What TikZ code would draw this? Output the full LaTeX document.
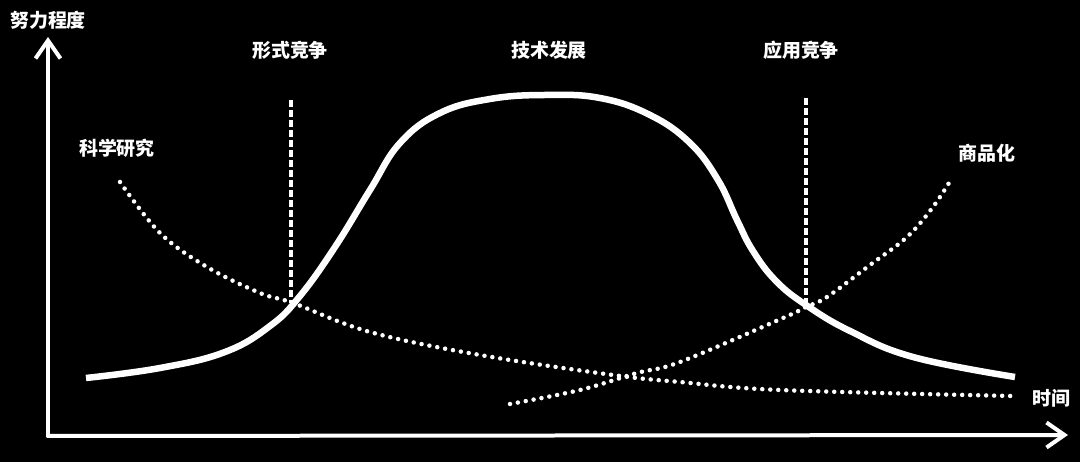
\documentclass[tikz,border=0pt]{standalone}
\usepackage{fontspec}
\newfontfamily\cjk{Noto Sans CJK SC}
\usetikzlibrary{arrows.meta}
\begin{document}
\begin{tikzpicture}[x=0.02cm,y=-0.02cm,axisA/.style={white,line width=0.08cm,line cap=round,-{Straight Barb[length=0.36cm,width=0.5cm]}},labelL/.style={white,font=\cjk\bfseries\fontsize{10.8pt}{12pt}\selectfont},mainC/.style={white,line width=0.13cm},dotC/.style={white,line width=0.09cm,line cap=round,dash pattern=on 0pt off 0.16cm},splitD/.style={white,line width=0.07cm,dash pattern=on 0.14cm off 0.06cm}]
\fill[black] (0,0) rectangle (1080,462);

\coordinate (O) at (48,436);
\coordinate (Ytop) at (48,37);
\coordinate (Xend) at (1068,435);
\draw[axisA] (O) -- (Ytop);
\draw[axisA] (O) -- (Xend);

\node[labelL] (yL) at (48,20) {努力程度};
\node[labelL] (xL) at (1051,398) {时间};
\node[labelL] (formL) at (290,50) {形式竞争};
\node[labelL] (techL) at (549,50) {技术发展};
\node[labelL] (appL) at (801,50) {应用竞争};
\node[labelL] (sciL) at (117,148) {科学研究};
\node[labelL] (comL) at (987,153) {商品化};

\coordinate (formT) at (291,100);
\coordinate (formB) at (291,303);
\coordinate (appT) at (806,98);
\coordinate (appB) at (806,306);
\draw[splitD] (formT) -- (formB);
\draw[splitD] (appT) -- (appB);

\draw[mainC] plot[smooth,tension=0.7] coordinates {(86,378) (160,368) (225,352) (270,326) (300,296) (335,247) (370,190) (400,143) (440,113) (490,99) (545,95) (600,98) (650,115) (690,143) (718,180) (737,220) (753,251) (776,281) (806,305) (850,331) (913,357) (1015,377)};
\draw[dotC] plot[smooth,tension=0.6] coordinates {(120,182) (160,233) (207,267) (260,293) (293,303) (370,332) (480,355) (613,375) (680,382) (780,390) (1012,396)};
\draw[dotC] plot[smooth,tension=0.6] coordinates {(510,404) (580,390) (637,373) (680,362) (783,318) (806,307) (827,297) (870,265) (907,237) (933,207) (952,178)};
\end{tikzpicture}
\end{document}
